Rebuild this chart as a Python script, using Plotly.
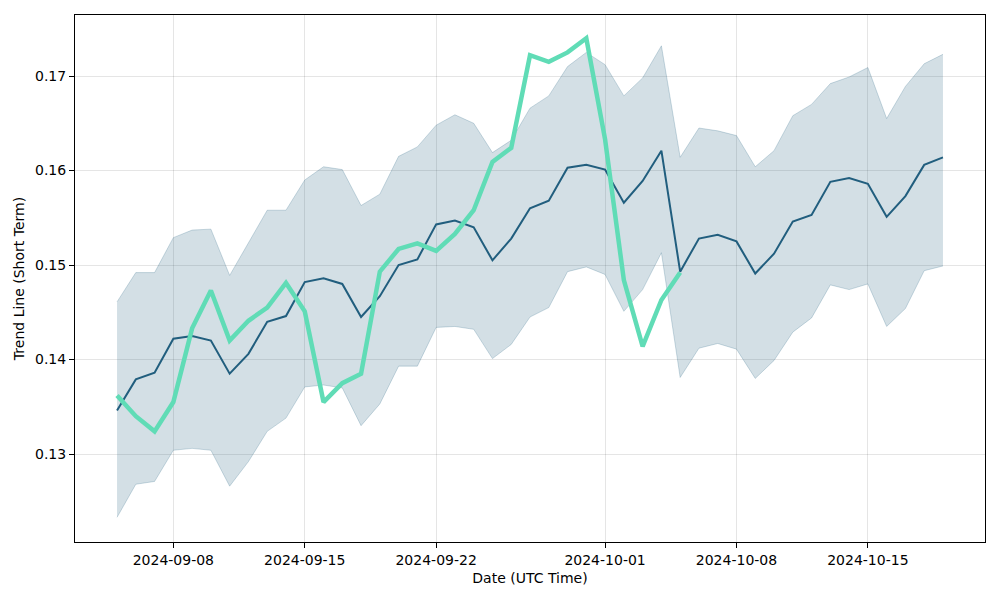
import pandas as pd
import plotly.graph_objects as go

# --- data ---
dates = pd.date_range("2024-09-05", "2024-10-19", freq="D")

trend_mean = [
    0.1346, 0.1379, 0.1386, 0.1422, 0.1425, 0.1420, 0.1385, 0.1406, 0.1440, 0.1446,
    0.1482, 0.1486, 0.1480, 0.1445, 0.1467, 0.1500, 0.1506, 0.1543, 0.1547, 0.1540,
    0.1505, 0.1528, 0.1560, 0.1568, 0.1603, 0.1606, 0.1601, 0.1566, 0.1589, 0.1621,
    0.1493, 0.1528, 0.1532, 0.1525, 0.1491, 0.1512, 0.1546, 0.1553, 0.1588, 0.1592,
    0.1586, 0.1551, 0.1573, 0.1606, 0.1614,
]
band_upper = [
    0.1461, 0.1492, 0.1492, 0.1529, 0.1537, 0.1538, 0.1489, 0.1523, 0.1558, 0.1558,
    0.1590, 0.1604, 0.1601, 0.1563, 0.1575, 0.1615, 0.1625, 0.1648, 0.1659, 0.1650,
    0.1619, 0.1632, 0.1666, 0.1679, 0.1710, 0.1725, 0.1712, 0.1679, 0.1698, 0.1732,
    0.1614, 0.1645, 0.1642, 0.1637, 0.1604, 0.1621, 0.1658, 0.1670, 0.1692, 0.1699,
    0.1709, 0.1655, 0.1689, 0.1713, 0.1723,
]
band_lower = [
    0.1233, 0.1268, 0.1271, 0.1304, 0.1306, 0.1304, 0.1266, 0.1292, 0.1324, 0.1338,
    0.1371, 0.1373, 0.1370, 0.1330, 0.1353, 0.1393, 0.1393, 0.1434, 0.1435, 0.1432,
    0.1401, 0.1416, 0.1445, 0.1455, 0.1493, 0.1498, 0.1490, 0.1451, 0.1474, 0.1513,
    0.1381, 0.1412, 0.1417, 0.1411, 0.1380, 0.1399, 0.1429, 0.1444, 0.1479, 0.1474,
    0.1480, 0.1435, 0.1454, 0.1494, 0.1499,
]
# actual series stops on 2024-10-05
actual = [
    0.1362, 0.1340, 0.1324, 0.1355, 0.1433, 0.1473, 0.1420, 0.1441, 0.1455, 0.1481,
    0.1451, 0.1355, 0.1375, 0.1385, 0.1493, 0.1517, 0.1523, 0.1515, 0.1533, 0.1558,
    0.1609, 0.1624, 0.1722, 0.1715, 0.1725, 0.1740, 0.1633, 0.1484, 0.1414, 0.1463,
    0.1492,
]

x_ticks = ["2024-09-08", "2024-09-15", "2024-09-22", "2024-10-01", "2024-10-08", "2024-10-15"]
y_ticks = [0.13, 0.14, 0.15, 0.16, 0.17]

# --- styles ---
DARK = "#215e7e"
BAND_FILL = "rgba(33,94,126,0.2)"
BAND_EDGE = "rgba(33,94,126,0.22)"
GREEN = "#60dcb6"
GRID = "rgba(0,0,0,0.1)"
FONT = "DejaVu Sans, sans-serif"

fig = go.Figure()

fig.add_trace(go.Scatter(
    x=dates, y=band_upper, mode="lines",
    line=dict(color=BAND_EDGE, width=1), showlegend=False, hoverinfo="skip",
))
fig.add_trace(go.Scatter(
    x=dates, y=band_lower, mode="lines", fill="tonexty", fillcolor=BAND_FILL,
    line=dict(color=BAND_EDGE, width=1), showlegend=False, hoverinfo="skip",
))
fig.add_trace(go.Scatter(
    x=dates, y=trend_mean, mode="lines",
    line=dict(color=DARK, width=2), showlegend=False,
))
fig.add_trace(go.Scatter(
    x=dates[:len(actual)], y=actual, mode="lines",
    line=dict(color=GREEN, width=4.5), showlegend=False,
))

axis_common = dict(
    showgrid=True, gridcolor=GRID, gridwidth=1, zeroline=False,
    showline=True, mirror=True, linecolor="black", linewidth=1,
    ticks="outside", ticklen=5, tickcolor="black", automargin=False,
    tickfont=dict(family=FONT, size=14, color="black"),
)

# the page adds an 8px body margin, so margins are shifted to compensate
fig.update_layout(
    width=1000, height=600,
    paper_bgcolor="white", plot_bgcolor="white",
    margin=dict(l=67, r=23, t=7, b=66),
    font=dict(family=FONT, size=14, color="black"),
    xaxis=dict(
        **axis_common,
        range=["2024-09-02 18:15", "2024-10-21 05:45"],
        tickvals=x_ticks, ticktext=x_ticks,
        title=dict(text="Date (UTC Time)", font=dict(family=FONT, size=14), standoff=6),
    ),
    yaxis=dict(
        **axis_common,
        range=[0.12069, 0.17646],
        tickvals=y_ticks, ticktext=[f"{v:.2f}" for v in y_ticks],
        title=dict(text="Trend Line (Short Term)", font=dict(family=FONT, size=14), standoff=7),
    ),
)

fig.write_html("out.html")
